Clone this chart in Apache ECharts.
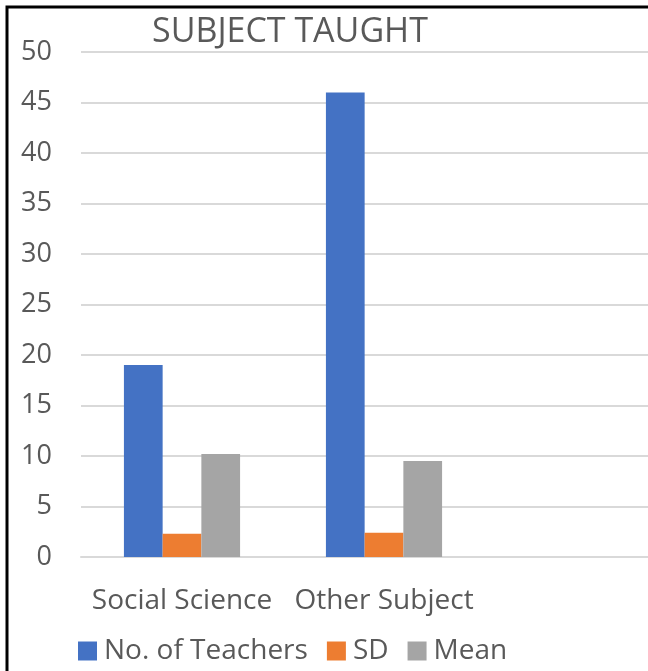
<!DOCTYPE html>
<html>
<head>
<meta charset="utf-8">
<script src="https://cdn.jsdelivr.net/npm/echarts@6/dist/echarts.min.js"></script>
<style>
  html, body { margin: 0; padding: 0; background: #fff; }
  #main { width: 648px; height: 671px; }
</style>
</head>
<body>
<div id="main"></div>
<script>
  // chart data
  const subjects = ['Social Science', 'Other Subject', ''];
  const teachers = [19, 46, null];
  const sd = [2.3, 2.4, null];
  const mean = [10.2, 9.5, null];

  const txt = '#595959';
  const font = 'Open Sans, sans-serif';

  var myChart = echarts.init(document.getElementById('main'));
  let option = {
    animation: false,
    title: {
      text: 'SUBJECT TAUGHT',
      left: 147,
      top: 10,
      textStyle: { color: txt, fontSize: 34, fontWeight: 'normal', fontFamily: font }
    },
    legend: {
      data: ['No. of Teachers', 'SD', 'Mean'],
      left: 73,
      top: 632,
      itemWidth: 19,
      itemHeight: 19,
      itemGap: 19,
      icon: 'rect',
      textStyle: { color: txt, fontSize: 28, fontFamily: font, padding: [0, 0, 0, 2] }
    },
    grid: {
      left: 81,
      width: 606,
      top: 52,
      height: 505,
      outerBoundsMode: 'none'
    },
    xAxis: {
      type: 'category',
      data: subjects,
      axisLine: { lineStyle: { color: '#d9d9d9', width: 2 } },
      axisTick: { show: false },
      axisLabel: { color: txt, fontSize: 28, fontFamily: font, margin: 30, interval: 0 }
    },
    yAxis: {
      type: 'value',
      min: 0,
      max: 50,
      interval: 5,
      axisLine: { show: false },
      axisTick: { show: false },
      axisLabel: { color: txt, fontSize: 27, fontFamily: font, margin: 29 },
      splitLine: { lineStyle: { color: '#d9d9d9', width: 2 } }
    },
    series: [
      {
        name: 'No. of Teachers',
        type: 'bar',
        data: teachers,
        barGap: '0%',
        barCategoryGap: '42.5%',
        itemStyle: { color: '#4472c4' }
      },
      {
        name: 'SD',
        type: 'bar',
        data: sd,
        itemStyle: { color: '#ed7d31' }
      },
      {
        name: 'Mean',
        type: 'bar',
        data: mean,
        itemStyle: { color: '#a5a5a5' }
      }
    ],
    graphic: [{
      type: 'rect',
      shape: { x: 7, y: 7, width: 800, height: 800 },
      style: { fill: 'none', stroke: '#000', lineWidth: 3 }
    }]
  };

  myChart.setOption(option);
</script>
</body>
</html>
